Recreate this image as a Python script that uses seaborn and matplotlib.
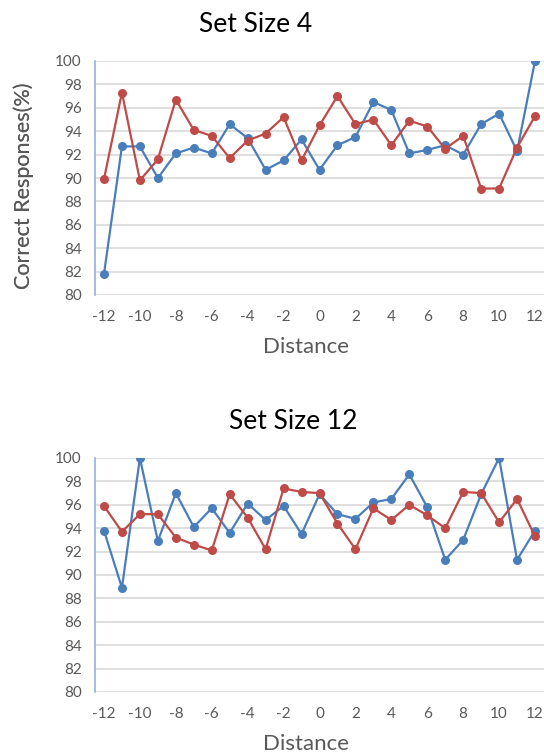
import numpy as np
import pandas as pd
import matplotlib
matplotlib.use("Agg")
import matplotlib.pyplot as plt
import seaborn as sns

distance = list(range(-12, 13))

set4_blue = [81.8, 92.7, 92.7, 90.0, 92.1, 92.6, 92.1, 94.6, 93.4, 90.7, 91.5, 93.3, 90.7,
             92.8, 93.5, 96.5, 95.8, 92.1, 92.4, 92.8, 92.0, 94.6, 95.5, 92.3, 100.0]
set4_red = [89.9, 97.3, 89.8, 91.6, 96.7, 94.1, 93.6, 91.7, 93.2, 93.8, 95.2, 91.5, 94.5,
            97.0, 94.6, 95.0, 92.8, 94.9, 94.4, 92.5, 93.6, 89.1, 89.1, 92.6, 95.3]

set12_blue = [93.8, 88.9, 100.0, 92.9, 97.0, 94.1, 95.7, 93.6, 96.1, 94.7, 95.9, 93.5, 96.9,
              95.2, 94.8, 96.2, 96.5, 98.6, 95.8, 91.3, 93.0, 96.9, 100.0, 91.3, 93.8]
set12_red = [95.9, 93.7, 95.2, 95.2, 93.2, 92.6, 92.1, 96.9, 94.9, 92.2, 97.4, 97.1, 97.0,
             94.4, 92.2, 95.7, 94.7, 96.0, 95.1, 94.0, 97.1, 97.0, 94.5, 96.5, 93.3]

titles = ["Set Size 4", "Set Size 12"]
x_ticks = list(range(-12, 13, 2))
y_ticks = list(range(80, 101, 2))

BLUE = "#4A7EBB"
RED = "#BE4B48"
GRID = "#D9D9D9"
TEXT = "#595959"

sns.set_theme(style="white")
plt.rcParams["font.family"] = ["Lato", "DejaVu Sans"]
plt.rcParams["axes.unicode_minus"] = False

fig = plt.figure(figsize=(5.44, 7.53), dpi=100)
W, H = 544, 753
left, right = 95, 544
# (top, bottom) of each plot area in pixels, and the title centre in pixels
panels = [(61, 295, 256), (458, 692, 293)]

for (top, bottom, tx), title, blue, red in zip(
        panels, titles, [set4_blue, set12_blue], [set4_red, set12_red]):
    ax = fig.add_axes([left / W, 1 - bottom / H, (right - left) / W, (bottom - top) / H])
    df = pd.DataFrame({
        "Distance": distance * 2,
        "value": blue + red,
        "series": ["A"] * len(distance) + ["B"] * len(distance),
    })
    sns.lineplot(data=df, x="Distance", y="value", hue="series",
                 palette={"A": BLUE, "B": RED}, marker="o", markersize=6.5,
                 markeredgewidth=0, linewidth=1.6, legend=False, ax=ax)
    ax.set_xlim(-12.5, 12.5)
    ax.set_ylim(80, 100)
    ax.set_xticks(x_ticks)
    ax.set_yticks(y_ticks)
    ax.yaxis.grid(True, color=GRID, linewidth=1.2)
    ax.xaxis.grid(False)
    ax.set_axisbelow(True)
    for s in ["top", "right", "bottom"]:
        ax.spines[s].set_visible(False)
    ax.spines["left"].set_color("#8EB4E3")
    ax.spines["left"].set_linewidth(1.2)
    ax.tick_params(axis="both", length=0, labelsize=11, labelcolor=TEXT)
    ax.tick_params(axis="y", pad=9.5)
    ax.tick_params(axis="x", pad=11)

    h = bottom - top
    ax.set_xlabel("Distance", fontsize=16, color=TEXT, va="baseline")
    ax.xaxis.set_label_coords((306 - left) / (right - left), -(58 / h))
    ax.set_ylabel("Correct Responses(%)", fontsize=15.5, color=TEXT, va="center")
    ax.yaxis.set_label_coords((24 - left) / (right - left), (bottom - 186) / h)
    ax.set_title(title, fontsize=19, color="black", va="baseline",
                 y=1 + 29 / h, pad=0)
    ax.title.set_x((tx - left) / (right - left))

fig.savefig("out.png", dpi=100)
